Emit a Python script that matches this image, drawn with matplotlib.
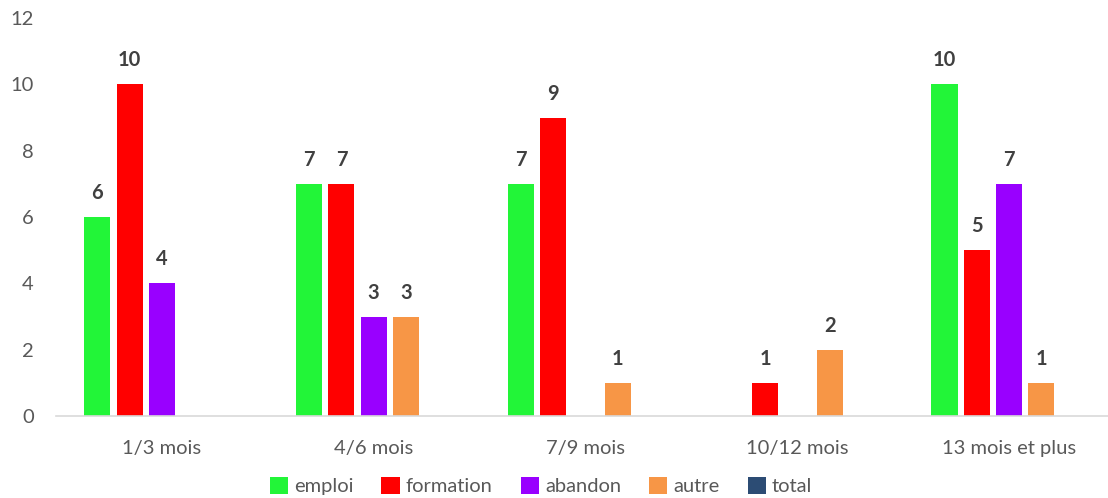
import matplotlib.pyplot as plt
import numpy as np

categories = ['1/3 mois', '4/6 mois', '7/9 mois', '10/12 mois', '13 mois et plus']
series_names = ['emploi', 'formation', 'abandon', 'autre', 'total']
emploi = [6, 7, 7, 0, 10]
formation = [10, 7, 9, 1, 5]
abandon = [4, 3, 0, 0, 7]
autre = [0, 3, 1, 2, 1]
total = [0, 0, 0, 0, 0]
colors = ['#22F538', '#FF0000', '#9900FF', '#F79646', '#2C4C74']

plt.rcParams['font.family'] = ['Lato', 'DejaVu Sans']

fig = plt.figure(figsize=(11.08, 4.98), dpi=100)
ax = fig.add_axes([56 / 1108, 1 - 416 / 498, 1059 / 1108, 398 / 498])

x = np.arange(len(categories))
step = 0.1525
width = 0.123
all_series = [emploi, formation, abandon, autre, total]
for i, (name, vals, col) in enumerate(zip(series_names, all_series, colors)):
    pos = x + (i - 2) * step
    bars = ax.bar(pos, vals, width, color=col, label=name)
    for b, v in zip(bars, vals):
        if v > 0:
            ax.annotate(str(v), (b.get_x() + b.get_width() / 2, v),
                        xytext=(0, 10), textcoords='offset points',
                        ha='center', va='bottom', fontsize=14.5,
                        fontweight='bold', color='#404040')

ax.set_xlim(-0.5, 4.5)
ax.set_ylim(0, 12)
ax.set_yticks(range(0, 13, 2))
ax.set_xticks(x)
ax.set_xticklabels(categories)
ax.tick_params(axis='both', length=0, labelsize=14.5, labelcolor='#595959')
ax.tick_params(axis='x', pad=17)
ax.tick_params(axis='y', pad=16)
for s in ['top', 'right', 'left']:
    ax.spines[s].set_visible(False)
ax.spines['bottom'].set_color('#D9D9D9')
ax.spines['bottom'].set_linewidth(1.2)

leg = ax.legend(loc='center', ncol=5, frameon=False,
                handlelength=0.9, handleheight=0.9, handletextpad=0.3,
                columnspacing=1.4, fontsize=14.5)
leg.set_bbox_to_anchor((541 / 1108, 1 - 486 / 498), transform=fig.transFigure)
for t in leg.get_texts():
    t.set_color('#595959')

fig.savefig('out.png', dpi=100)
